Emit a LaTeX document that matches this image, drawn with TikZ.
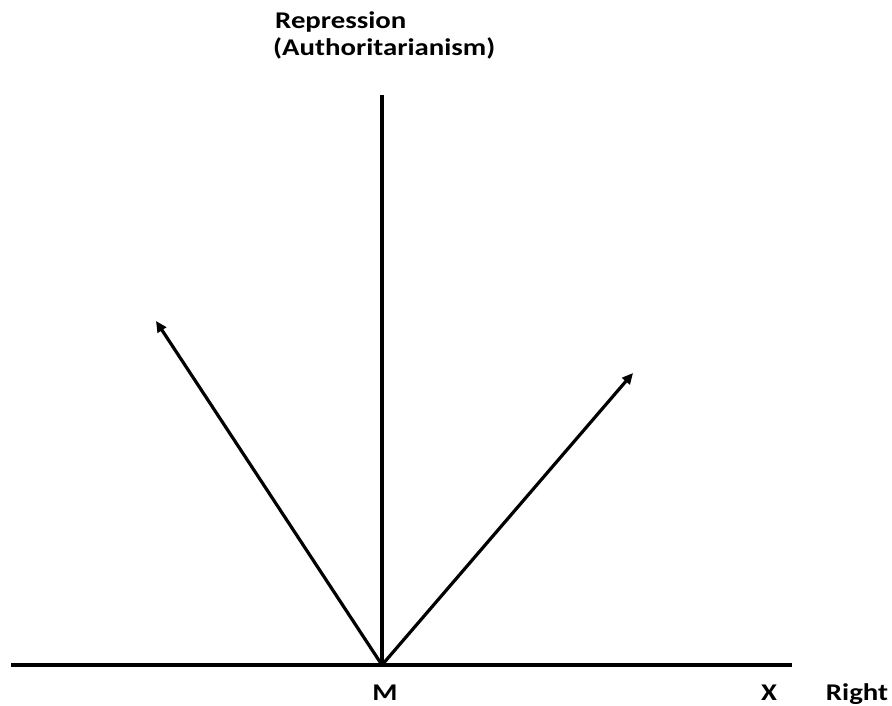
\documentclass[tikz,border=0pt]{standalone}
\usepackage{fontspec}
\setmainfont{Carlito}
\usetikzlibrary{arrows.meta}
\begin{document}
\begin{tikzpicture}[x=1pt,y=-1pt,
  axis/.style={line width=3.4pt},
  vec/.style={line width=3.2pt,-{Triangle[length=11pt,width=10pt]}},
  lbl/.style={inner sep=0pt,font=\fontsize{24}{29}\selectfont\bfseries}]
\useasboundingbox (0,0) rectangle (892,706);
\coordinate (L) at (11,665);
\coordinate (R) at (792,665);
\coordinate (O) at (382,665);
\coordinate (T) at (382,95);
\coordinate (A1) at (156,321);
\coordinate (A2) at (633,373);
\draw[axis] (L) -- (R);
\draw[axis] (O) -- (T);
\draw[vec] (O) -- (A1);
\draw[vec] (O) -- (A2);
\node[lbl,anchor=base west] (rep) at (275,29) {\scalebox{1.2}[1]{Repression}};
\node[lbl,anchor=base west] (auth) at (273,56) {\scalebox{1.2}[1]{(Authoritarianism)}};
\node[lbl,anchor=base] (M) at (385,700) {\scalebox{1.2}[1]{M}};
\node[lbl,anchor=base] (X) at (769,700) {\scalebox{1.2}[1]{X}};
\node[lbl,anchor=base] (Right) at (857,700) {\scalebox{1.2}[1]{Right}};
\end{tikzpicture}
\end{document}
